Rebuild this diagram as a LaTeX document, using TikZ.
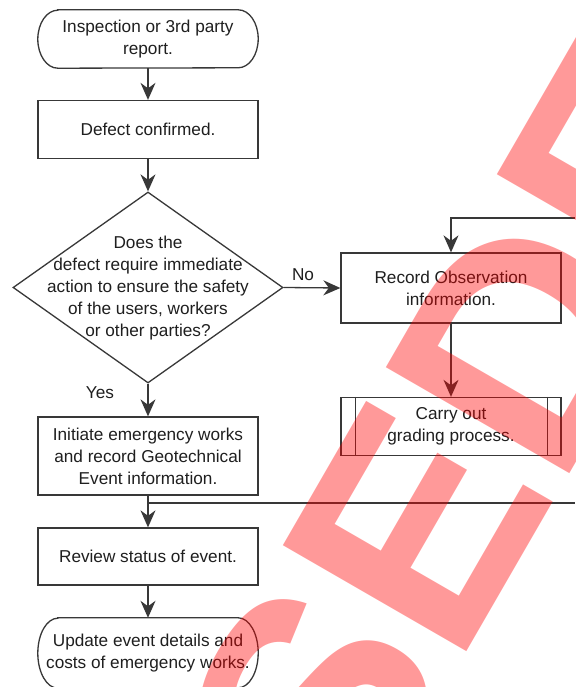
\documentclass[tikz,border=0pt]{standalone}
\usepackage{fontspec}
\setmainfont{Liberation Sans}
\usetikzlibrary{arrows.meta,shapes.geometric}
\tikzset{
  ln/.style={draw=black!78, line width=1.3pt},
  txt/.style={font=\fontsize{17.2pt}{22pt}\selectfont, text=black!88, align=center, inner sep=0pt},
  box/.style={ln, txt, rectangle, minimum width=220pt},
  term/.style={txt, rectangle, minimum width=220pt},
  arr/.style={ln, -{Stealth[length=17pt,width=15pt,inset=5.5pt]}},
  wm/.style={font=\fontsize{308pt}{308pt}\selectfont\bfseries, text=red, opacity=0.4, rotate=60, inner sep=0pt}
}
\begin{document}
\begin{tikzpicture}[x=1pt,y=-1pt]
\useasboundingbox (0,0) rectangle (575,687);
\clip (0,0) rectangle (575,687);
\fill[white] (0,0) rectangle (575,687);

\node[term, minimum height=58pt] (start) at (148,39) {Inspection or 3rd party\\report.};
\draw[ln] ([xshift=20pt]start.north west) -- ([xshift=-20pt]start.north east)
  arc[start angle=90, end angle=-90, x radius=20pt, y radius=29pt]
  -- ([xshift=20pt]start.south west)
  arc[start angle=-90, end angle=-270, x radius=20pt, y radius=29pt] -- cycle;
\node[box, minimum height=58pt] (defect) at (148,129.5) {Defect confirmed.};
\node[ln, diamond, minimum width=270pt, minimum height=191pt, inner sep=0pt] (dec) at (148,287.5) {};
\node[txt] (dectext) at (148,288) {Does the\\defect require immediate\\action to ensure the safety\\of the users, workers\\or other parties?};
\node[box, minimum height=70pt] (rec) at (451,288) {Record Observation\\information.};
\node[box, minimum height=58pt] (carry) at (451,426.5) {Carry out\\grading process.};
\draw[ln] ([xshift=15pt]carry.north west) -- ([xshift=15pt]carry.south west);
\draw[ln] ([xshift=-14pt]carry.north east) -- ([xshift=-14pt]carry.south east);
\node[box, minimum height=78pt] (init) at (148,456) {Initiate emergency works\\and record Geotechnical\\Event information.};
\node[box, minimum height=57pt] (review) at (148,556.5) {Review status of event.};
\node[term, minimum height=70pt] (update) at (148,653) {Update event details and\\costs of emergency works.};
\draw[ln] ([xshift=20pt]update.north west) -- ([xshift=-20pt]update.north east)
  arc[start angle=90, end angle=-90, x radius=20pt, y radius=35pt]
  -- ([xshift=20pt]update.south west)
  arc[start angle=-90, end angle=-270, x radius=20pt, y radius=35pt] -- cycle;

\node[txt] (no) at (303,275) {No};
\node[txt] (yes) at (100,393) {Yes};

\coordinate (fbin) at (575,218);
\coordinate (jn) at (148,503);
\coordinate (jout) at (575,503);

\draw[arr] (start) -- (defect);
\draw[arr] (defect) -- (dec.north);
\draw[arr] (dec.east) -- (rec.west);
\draw[arr] (dec.south) -- (init.north);
\draw[arr] (rec) -- (carry);
\draw[arr] (fbin) -| (rec.north);
\draw[arr] (init) -- (review);
\draw[ln] (jn) -- (jout);
\draw[arr] (review) -- (update);

\coordinate (wmo) at (456.8,669.5);
\node[wm, anchor=base east] (wmA) at (wmo) {SUPERS};
\node[wm, anchor=base west] (wmB) at (wmo) {EDED};
\end{tikzpicture}
\end{document}
